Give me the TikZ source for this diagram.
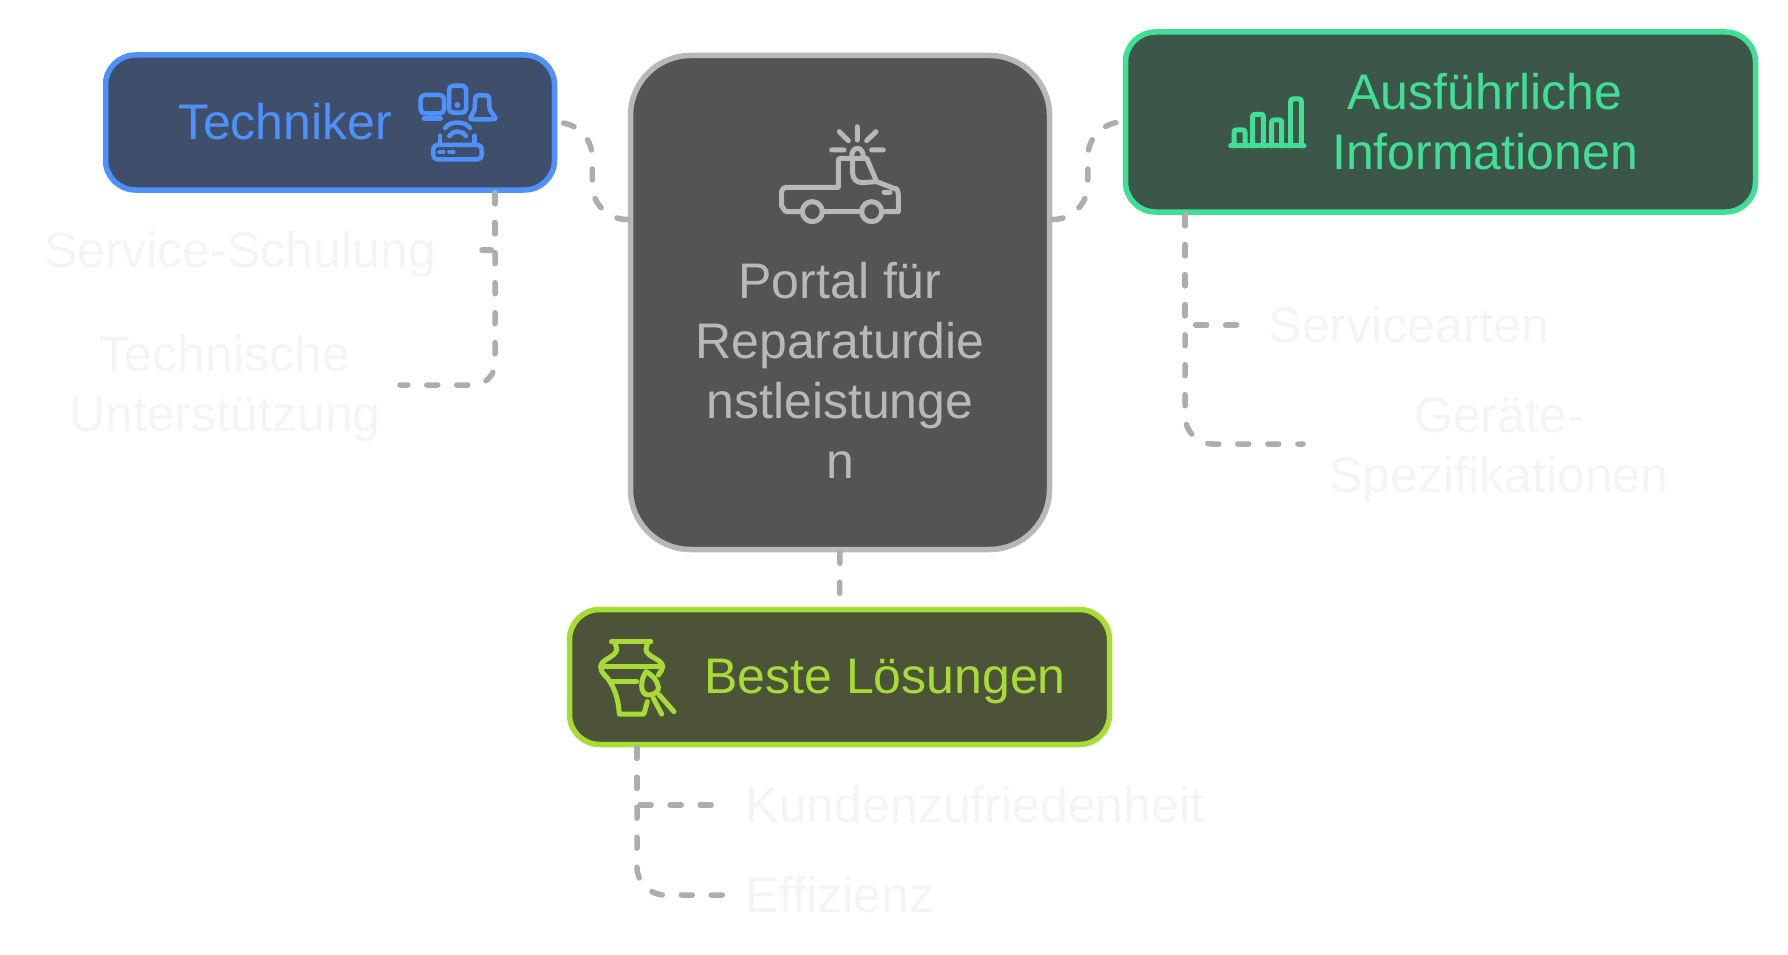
\documentclass[tikz,border=0pt]{standalone}
\usepackage{fontspec}
\usepackage{xcolor}
\setmainfont{Liberation Sans}
\usetikzlibrary{calc,positioning}
\definecolor{techblue}{HTML}{4F91FC}
\definecolor{techfill}{HTML}{3F4F6B}
\definecolor{infogreen}{HTML}{40DF95}
\definecolor{infofill}{HTML}{3C5749}
\definecolor{bestlime}{HTML}{A6DC35}
\definecolor{bestfill}{HTML}{4C5339}
\definecolor{portalgray}{HTML}{B8B8B8}
\definecolor{portalfill}{HTML}{545454}
\definecolor{linkgray}{HTML}{ADADAD}
\definecolor{faint}{HTML}{F4F4F5}
\tikzset{%
	box/.style     = {draw, line width=5.5pt, rounded corners=30pt, inner sep=0pt},
	title/.style   = {font=\fontsize{50}{60}\selectfont, align=center, inner sep=0pt},
	leaf/.style    = {title, text=faint},
	link/.style    = {draw=linkgray, line width=5.5pt, line cap=round, dash pattern=on 11pt off 19pt},
	icon/.style    = {line width=5pt, line cap=round, line join=round},
}

\begin{document}
\begin{tikzpicture}[x=1pt,y=-1pt]
		\useasboundingbox (0,0) rectangle (1788,955);
		% the four boxes
		\node[box,draw=portalgray,fill=portalfill,rounded corners=60pt,minimum width=419pt,minimum height=494pt] (portal) at (840,302.5) {};
		\node[box,draw=techblue,fill=techfill,minimum width=449pt,minimum height=135pt] (tech) at (330,122.5) {};
		\node[box,draw=infogreen,fill=infofill,minimum width=630pt,minimum height=180pt] (info) at (1440.5,122) {};
		\node[box,draw=bestlime,fill=bestfill,minimum width=540pt,minimum height=135pt] (best) at (839.5,677) {};
		\coordinate (schulungend) at (482,250);
		\coordinate (stuetzend) at (400,385);
		\coordinate (artenend) at (1237,325);
		\coordinate (specend) at (1303,444);
		\coordinate (kundenend) at (712,805);
		\coordinate (effend) at (723,895);
		% connectors
		\draw[link,rounded corners=35pt] ($(portal.west)+(0,-83)$) -| ($(tech.east)+(35,0)$) -- (tech.east);
		\draw[link,rounded corners=35pt] ($(portal.east)+(0,-83)$) -| ($(info.west)+(-35,0)$) -- (info.west);
		\draw[link] (portal.south) -- (best.north);
		\draw[link,rounded corners=2pt] ($(tech.south)+(165,0)$) |- (schulungend);
		\draw[link,rounded corners=22pt] ($(tech.south)+(165,0)$) |- (stuetzend);
		\draw[link,rounded corners=2pt] ($(info.south)+(-255.5,0)$) |- (artenend);
		\draw[link,rounded corners=28pt] ($(info.south)+(-255.5,0)$) |- (specend);
		\draw[link,rounded corners=2pt] ($(best.south)+(-202.5,0)$) |- (kundenend);
		\draw[link,rounded corners=28pt] ($(best.south)+(-202.5,0)$) |- (effend);
		% titles
		\node[title,text=techblue] (techlabel) at (285,122) {Techniker};
		\node[title,text=infogreen] (infolabel) at (1485,122) {Ausführliche\\Informationen};
		\node[title,text=portalgray] (portallabel) at (840,370) {Portal für\\Reparaturdie\\nstleistunge\\n};
		\node[title,text=bestlime] (bestlabel) at (885,681) {Beste Lösungen};
		% faint leaves
		\node[leaf] (schulung) at (240,255) {Service-Schulung};
		\node[leaf] (stuetz) at (225,389) {Technische\\Unterstützung};
		\node[leaf] (arten) at (1409,325) {Servicearten};
		\node[leaf] (spec) at (1499,450) {Geräte-\\Spezifikationen};
		\node[leaf] (kunden) at (975,805) {Kundenzufriedenheit};
		\node[leaf] (eff) at (840,895) {Effizienz};
		% truck
		\begin{scope}[shift={(770,110)},scale=1/3,icon,draw=portalgray]
			\draw (95,305) -- (50,305) to[out=180,in=90] (35,290) -- (35,245) to[out=90,in=180] (48,232) -- (205,232) -- (205,150) to[out=90,in=180] (215,145) -- (290,145) -- (320,215) -- (372,235) to[out=20,in=90] (385,255) -- (385,305) -- (335,305);
			\draw (158,305) -- (275,305);
			\draw (127,305) circle (30);
			\draw (305,305) circle (30);
			\draw (248,145) -- (248,190) to[out=-90,in=180] (275,218) -- (320,215);
			\draw (245,140) to[out=90,in=180] (262,115) to[out=0,in=90] (280,140);
			\draw (262,50) -- (262,90) (208,65) -- (235,92) (318,65) -- (290,92) (185,120) -- (222,120) (305,120) -- (340,120) (342,247) -- (360,247);
		\end{scope}
		% devices and router
		\begin{scope}[shift={(400,70)},scale=1/3,icon,line width=4.5pt,draw=techblue]
			\draw[rounded corners=4pt] (62,75) rectangle (132,130);
			\draw (95,130) -- (95,145) (72,145) -- (122,145);
			\draw[rounded corners=4pt] (147,47) rectangle (198,128);
			\fill[techblue] (172,105) circle (9);
			\draw[rounded corners=3pt] (226,76) -- (267,76) -- (269,122) -- (285,138) -- (285,148) -- (212,148) -- (212,138) -- (224,122) -- cycle;
			\draw (135,174) .. controls (150,152) and (195,152) .. (210,174);
			\draw (148,198) .. controls (158,180) and (187,180) .. (198,198);
			\draw[rounded corners=4pt] (100,225) rectangle (245,268);
			\draw (120,197) -- (120,225) (224,197) -- (224,225) (118,246) -- (130,246) (148,246) -- (160,246);
		\end{scope}
		% bars
		\begin{scope}[shift={(1100,20)},scale=1/3,icon,draw=infogreen,rounded corners=2pt]
			\draw (392,378) -- (612,378);
			\draw (402,378) -- (402,330) -- (435,330) -- (435,378);
			\draw (458,378) -- (458,283) -- (490,283) -- (490,378);
			\draw (515,378) -- (515,300) -- (545,300) -- (545,378);
			\draw (572,378) -- (572,237) -- (604,237) -- (604,378);
		\end{scope}
		% vase and brush
		\begin{scope}[shift={(560,600)},scale=1/3,icon,draw=bestlime]
			\draw (155,125) -- (272,125);
			\draw (155,125) to[out=60,in=90] (170,150) to[out=-100,in=90,looseness=0.8] (122,200) to[out=-90,in=120] (150,245) to[out=-60,in=95] (178,342) -- (252,342) -- (262,305);
			\draw (272,125) to[out=120,in=90] (258,150) to[out=-80,in=90,looseness=0.8] (308,200) to[out=-90,in=60] (295,225);
			\draw (130,198) -- (298,198);
			\draw (150,245) -- (230,245);
			\draw (258,215) to[out=-120,in=90] (245,258) to[out=-90,in=180] (265,285) to[out=0,in=-80] (295,262) to[out=100,in=-30] (258,215);
			\draw (280,295) -- (305,342) (298,285) -- (342,335);
		\end{scope}
	\end{tikzpicture}
\end{document}
